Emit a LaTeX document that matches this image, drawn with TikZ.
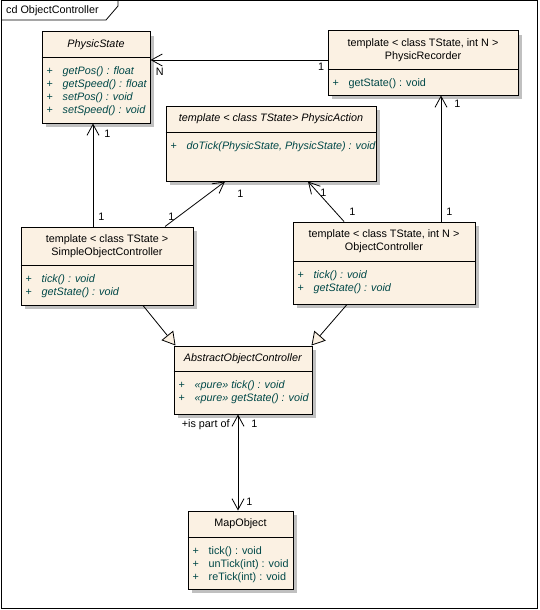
\documentclass[tikz,border=0pt]{standalone}
\usepackage{fontspec}
\setmainfont{Liberation Sans}
\usepackage{xcolor}
\usetikzlibrary{positioning, shadows, arrows.meta}
\definecolor{umlfill}{RGB}{251, 241, 227}
\definecolor{umlshadow}{RGB}{192, 192, 192}
\definecolor{umltext}{RGB}{0, 72, 72}

\newcommand{\op}[1]{\strut\makebox[16pt][l]{+}#1}

\begin{document}
\begin{tikzpicture}[x=1pt, y=-1pt, font=\fontsize{10.8}{13}\selectfont,
  >={Straight Barb[length=11pt, width=12pt]},
  classbox/.style={draw, fill=umlfill, line width=1pt, inner sep=0pt,
    general shadow={fill=umlshadow, shadow xshift=4pt, shadow yshift=-4pt}},
  classname/.style={anchor=north, inner sep=0pt, align=center},
  ops/.style={inner sep=0pt, align=left, text=umltext},
  divider/.style={line width=1pt},
  assoc/.style={->, line width=0.8pt},
  general/.style={line width=0.8pt, -{Triangle[length=13pt, width=15pt, fill=umlfill]}},
  mult/.style={inner sep=3pt}]
\useasboundingbox (0,0) rectangle (539,610);

% Frame
\draw[line width=1pt] (1,1) rectangle (537.5,608.5);
\draw[line width=0.8pt] (1,20) -- (106,20) -- (118,6) -- (118,1);
\node[anchor=west, inner sep=0pt] (frametitle) at (6,11) {cd ObjectController};

% Classes
\node[classbox, minimum width=108pt, minimum height=91pt] (ps) at (96,77.5) {};
\draw[divider] ([yshift=-26pt]ps.north west) coordinate (ps-d) -- ([yshift=-26pt]ps.north east);
\node[classname, minimum height=26pt] at (ps.north) {\textit{PhysicState}};
\node[ops, below right=8pt and 5pt of ps-d] {\op{\textit{getPos() : float}}\\ \op{\textit{getSpeed() : float}}\\ \op{\textit{setPos() : void}}\\ \op{\textit{setSpeed() : void}}};

\node[classbox, minimum width=190pt, minimum height=64pt] (pr) at (423,63) {};
\draw[divider] ([yshift=-39pt]pr.north west) coordinate (pr-d) -- ([yshift=-39pt]pr.north east);
\node[classname, minimum height=39pt] at (pr.north) {template < class TState, int N >\\ PhysicRecorder};
\node[ops, below right=8pt and 5pt of pr-d] {\op{getState() : void}};

\node[classbox, minimum width=210pt, minimum height=75pt] (pa) at (271,143.5) {};
\draw[divider] ([yshift=-27pt]pa.north west) coordinate (pa-d) -- ([yshift=-27pt]pa.north east);
\node[classname, minimum height=27pt] at (pa.north) {\textit{template < class TState> PhysicAction}};
\node[ops, below right=8pt and 5pt of pa-d] {\op{\textit{doTick(PhysicState, PhysicState) : void}}};

\node[classbox, minimum width=172pt, minimum height=78pt] (soc) at (107,266) {};
\draw[divider] ([yshift=-39pt]soc.north west) coordinate (soc-d) -- ([yshift=-39pt]soc.north east);
\node[classname, minimum height=39pt] at (soc.north) {template < class TState >\\ SimpleObjectController};
\node[ops, below right=8pt and 5pt of soc-d] {\op{\textit{tick() : void}}\\ \op{\textit{getState() : void}}};

\node[classbox, minimum width=182pt, minimum height=82pt] (oc) at (384,263) {};
\draw[divider] ([yshift=-40pt]oc.north west) coordinate (oc-d) -- ([yshift=-40pt]oc.north east);
\node[classname, minimum height=40pt] at (oc.north) {template < class TState, int N >\\ ObjectController};
\node[ops, below right=8pt and 5pt of oc-d] {\op{\textit{tick() : void}}\\ \op{\textit{getState() : void}}};

\node[classbox, minimum width=138pt, minimum height=68pt] (aoc) at (243,380) {};
\draw[divider] ([yshift=-26pt]aoc.north west) coordinate (aoc-d) -- ([yshift=-26pt]aoc.north east);
\node[classname, minimum height=26pt] at (aoc.north) {\textit{AbstractObjectController}};
\node[ops, below right=8pt and 5pt of aoc-d] {\op{\textit{«pure» tick() : void}}\\ \op{\textit{«pure» getState() : void}}};

\node[classbox, minimum width=105pt, minimum height=78pt] (mo) at (240.5,550) {};
\draw[divider] ([yshift=-27pt]mo.north west) coordinate (mo-d) -- ([yshift=-27pt]mo.north east);
\node[classname, minimum height=27pt] at (mo.north) {MapObject};
\node[ops, below right=8pt and 5pt of mo-d] {\op{tick() : void}\\ \op{unTick(int) : void}\\ \op{reTick(int) : void}};

% Associations
\draw[assoc] ([yshift=3pt]pr.west) coordinate (e1) -- (e1 -| ps.east)
  node[mult, pos=0, below left] {1} node[mult, pos=1, below right=5pt and 2pt] {N};
\draw[assoc] ([xshift=-14pt]soc.north) coordinate (e2) -- (e2 |- ps.south)
  node[mult, pos=0, above right=3pt and 2pt] {1} node[mult, pos=1, below right=3pt and 8pt] {1};
\draw[assoc] ([xshift=58pt]soc.north) -- ([xshift=-46pt]pa.south)
  node[mult, pos=0, above right=3pt and 0pt] {1} node[mult, pos=1, below right=5pt and 9pt] {1};
\draw[assoc] ([xshift=-40pt]oc.north) -- ([xshift=37pt]pa.south)
  node[mult, pos=0, above right=3pt and 2pt] {1} node[mult, pos=1, below right=4pt and 9pt] {1};
\draw[assoc] ([xshift=57pt]oc.north) coordinate (e5) -- (e5 |- pr.south)
  node[mult, pos=0, above right=3pt and 2pt] {1} node[mult, pos=1, below right=1pt and 10pt] {1};

% Generalizations
\draw[general] ([xshift=36pt]soc.south) -- ([xshift=2pt]aoc.north west);
\draw[general] ([xshift=-37pt]oc.south) -- ([xshift=-1pt]aoc.north east);

% Aggregation
\draw[assoc, <->] ([xshift=-5pt]aoc.south) coordinate (e8) -- (e8 |- mo.north)
  node[mult, pos=0, below left=2pt and 5pt] {+is part of}
  node[mult, pos=0, below right=2pt and 10pt] {1}
  node[mult, pos=1, above right=2pt and 5pt] {1};

\end{tikzpicture}
\end{document}
